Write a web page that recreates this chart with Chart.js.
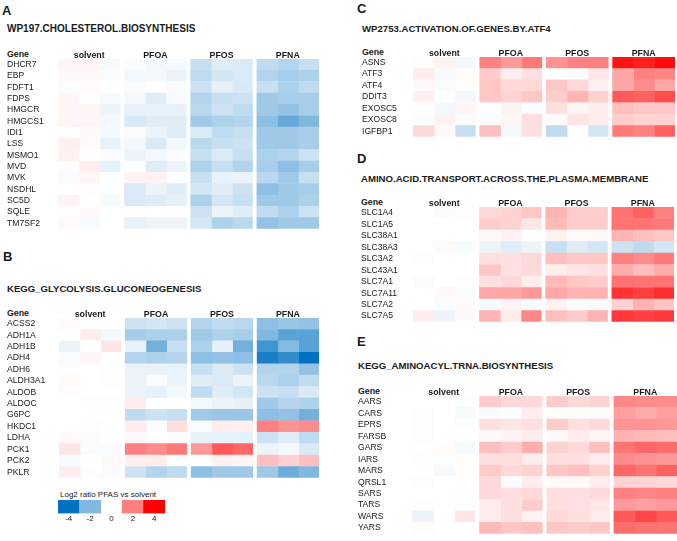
<!DOCTYPE html>
<html>
<head>
<meta charset="utf-8">
<script src="https://cdn.jsdelivr.net/npm/chart.js@4.4.1/dist/chart.umd.min.js"></script>
<style>
  body { margin: 0; background: #fff; width: 677px; height: 541px; position: relative; overflow: hidden;
         font-family: 'Liberation Sans', Arial, sans-serif; color: #1a1a1a; }
  canvas, .txt { position: absolute; }
  .txt { line-height: 12px; white-space: nowrap; }
  .letter { font-weight: bold; font-size: 13px; }
  .ttl { font-weight: bold; font-size: 9.6px; }
  .gene { font-weight: bold; font-size: 8.8px; }
  .leg { font-size: 8px; }
</style>
</head>
<body>
<div class="txt letter" style="left:2px;top:5px">A</div>
<div class="txt ttl" style="left:7px;top:23px;font-size:10px">WP197.CHOLESTEROL.BIOSYNTHESIS</div>
<div class="txt gene" style="left:7px;top:48px">Gene</div>
<canvas id="chartA" width="330" height="190" style="left:0;top:44px"></canvas>

<div class="txt letter" style="left:3px;top:251px">B</div>
<div class="txt ttl" style="left:7px;top:283px">KEGG_GLYCOLYSIS.GLUCONEOGENESIS</div>
<div class="txt gene" style="left:7px;top:307px">Gene</div>
<canvas id="chartB" width="330" height="180" style="left:0;top:303px"></canvas>

<div class="txt leg" style="left:60px;top:489px">Log2 ratio PFAS vs solvent</div>
<canvas id="legendChart" width="115" height="26" style="left:54px;top:499px"></canvas>

<div class="txt letter" style="left:357px;top:3px">C</div>
<div class="txt ttl" style="left:362px;top:23px">WP2753.ACTIVATION.OF.GENES.BY.ATF4</div>
<div class="txt gene" style="left:362px;top:46px">Gene</div>
<canvas id="chartC" width="322" height="100" style="left:355px;top:42px"></canvas>

<div class="txt letter" style="left:357px;top:153px">D</div>
<div class="txt ttl" style="left:361px;top:173px">AMINO.ACID.TRANSPORT.ACROSS.THE.PLASMA.MEMBRANE</div>
<div class="txt gene" style="left:361px;top:196px">Gene</div>
<canvas id="chartD" width="322" height="135" style="left:355px;top:192px"></canvas>

<div class="txt letter" style="left:357px;top:336px">E</div>
<div class="txt ttl" style="left:358px;top:360px">KEGG_AMINOACYL.TRNA.BIOSYNTHESIS</div>
<div class="txt gene" style="left:358px;top:385px">Gene</div>
<canvas id="chartE" width="326" height="158" style="left:351px;top:381px"></canvas>

<script>
var FONT = "'Liberation Sans', Arial, sans-serif";

// sample groups, 3 replicates each
var groups = ['solvent', 'PFOA', 'PFOS', 'PFNA'];

// log2 ratio per gene: [solvent x3, PFOA x3, PFOS x3, PFNA x3]
var genesA = ['DHCR7', 'EBP', 'FDFT1', 'FDPS', 'HMGCR', 'HMGCS1', 'IDI1', 'LSS', 'MSMO1', 'MVD', 'MVK', 'NSDHL', 'SC5D', 'SQLE', 'TM7SF2'];
var valuesA = [
    [0.15, 0.15, -0.15, -0.1, -0.2, -0.15, -0.9, -0.5, -0.6, -1.0, -1.2, -0.9],
    [0.1, 0.1, -0.1, -0.2, -0.2, -0.3, -1.0, -0.7, -0.6, -1.2, -1.4, -1.3],
    [-0.05, 0.1, 0, -0.1, 0, -0.1, -0.8, -0.4, -0.6, -0.9, -1.3, -1.0],
    [0.15, 0, -0.15, -0.2, -0.5, -0.1, -1.2, -0.9, -0.8, -1.5, -1.4, -1.4],
    [0.15, 0.15, -0.3, -0.4, -0.4, -0.4, -1.1, -0.8, -1.0, -1.5, -1.7, -1.4],
    [0.15, 0.15, -0.2, -0.6, -0.5, -0.5, -1.5, -1.3, -1.2, -1.8, -2.4, -2.0],
    [0, 0.1, -0.15, -0.1, -0.3, -0.5, -0.6, -1.0, -0.9, -1.5, -1.5, -1.4],
    [0.25, 0.1, -0.4, -0.2, -0.6, -0.2, -1.1, -0.9, -0.8, -1.5, -1.5, -1.4],
    [0.2, 0, -0.1, -0.3, -0.2, -0.1, -0.9, -0.6, -0.9, -1.3, -1.2, -0.8],
    [0.05, 0.3, -0.4, -0.05, -0.5, -0.3, -1.3, -0.9, -1.2, -1.4, -1.8, -1.4],
    [-0.1, 0.15, 0, 0.2, 0.2, 0, -0.9, -0.4, -0.3, -1.1, -1.5, -0.9],
    [0, 0.05, -0.05, -0.6, -0.3, -0.5, -0.7, -0.5, -0.8, -1.8, -1.5, -1.4],
    [0.2, 0, -0.15, -0.6, -0.5, -0.4, -1.3, -0.7, -0.9, -1.5, -1.5, -1.3],
    [0, 0.1, 0, 0, 0, 0, -0.8, -0.3, -0.5, -1.0, -1.3, -0.8],
    [0.1, -0.15, 0, -0.4, -0.3, -0.3, -0.7, -1.3, -1.1, -1.7, -1.5, -1.5]
];

var genesB = ['ACSS2', 'ADH1A', 'ADH1B', 'ADH4', 'ADH6', 'ALDH3A1', 'ALDOB', 'ALDOC', 'G6PC', 'HKDC1', 'LDHA', 'PCK1', 'PCK2', 'PKLR'];
var valuesB = [
    [0.1, 0, 0, -0.8, -0.7, -0.8, -1.2, -1.0, -1.1, -1.8, -1.6, -1.7],
    [0, 0.3, -0.2, -1.4, -1.3, -1.3, -1.5, -1.3, -1.4, -2.0, -2.6, -2.6],
    [-0.3, 0, 0.4, -0.4, -2.2, -0.9, -1.3, -0.4, -2.2, -3.0, -1.9, -2.6],
    [-0.1, 0.15, 0, -1.2, -1.3, -1.2, -1.8, -1.7, -1.8, -3.6, -3.2, -4.0],
    [-0.05, 0, -0.05, -0.35, -0.35, -0.35, -0.9, -0.6, -0.8, -1.2, -1.2, -1.7],
    [0.1, 0, -0.05, -0.3, -0.1, -0.3, -0.5, -0.6, -0.3, -1.1, -1.3, -1.0],
    [0.05, 0, 0, -0.3, -0.4, -0.2, -1.0, -0.5, -0.7, -0.8, -0.9, -0.6],
    [0, -0.05, 0.05, 0.3, 0, 0, -0.2, -0.3, -0.4, -1.5, -1.2, -1.3],
    [0, 0, 0, -1.0, -0.8, -0.9, -1.5, -1.6, -1.6, -1.8, -1.7, -2.2],
    [0, 0.05, 0, 0.3, -0.1, 0.5, -0.1, 0.3, 0.25, 2.0, 1.7, 1.8],
    [0.1, -0.1, 0, 0.1, 0, -0.05, -0.4, -0.4, -0.4, -0.8, -0.5, -1.0],
    [0.4, -0.1, -0.1, 2.0, 1.8, 2.1, 1.6, 2.6, 2.4, -0.3, -0.2, -0.6],
    [-0.15, 0, 0.1, 0.25, 0.3, 0, 0, 0.2, 0.15, 1.0, 0.7, 1.0],
    [0.3, -0.05, -0.1, -0.8, -1.2, -1.0, -1.8, -1.5, -1.5, -1.5, -2.3, -2.0]
];

var genesC = ['ASNS', 'ATF3', 'ATF4', 'DDIT3', 'EXOSC5', 'EXOSC8', 'IGFBP1'];
var valuesC = [
    [0.05, 0.2, -0.2, 2.0, 1.6, 2.1, 1.7, 2.0, 2.0, 3.7, 3.5, 3.8],
    [0.3, -0.15, 0.05, 0.8, 0.3, 0.5, 0, -0.05, 0.4, 1.4, 2.0, 1.9],
    [0.1, -0.1, 0.05, 0.9, 0.6, 0.6, 0.9, 0.6, 0.25, 1.4, 1.8, 1.4],
    [0.25, 0, -0.2, 0.9, 0.7, 0.9, 0.8, 1.2, 0.7, 2.6, 2.5, 2.8],
    [0, -0.2, 0.15, 0, 0.2, -0.05, 0.5, 0.15, 0.3, 1.0, 0.9, 0.9],
    [-0.05, 0.2, -0.1, -0.1, 0.15, 0.5, 0.1, 0.4, 0.3, 0.8, 0.7, 0.7],
    [0.6, 0.1, -0.9, 1.0, -0.2, 0.5, -1.0, 0, -0.7, 2.1, 2.0, 2.5]
];

var genesD = ['SLC1A4', 'SLC1A5', 'SLC38A1', 'SLC38A3', 'SLC3A2', 'SLC43A1', 'SLC7A1', 'SLC7A11', 'SLC7A2', 'SLC7A5'];
var valuesD = [
    [0, -0.1, 0.05, 0.6, 0.7, 0.9, 1.2, 0.8, 0.8, 2.2, 2.5, 2.0],
    [0, 0, 0, 0.8, 0.7, 0.4, 1.1, 0.8, 0.8, 2.2, 2.2, 2.1],
    [0, 0, 0, 0.1, 0.2, 0, 0.2, 0.05, 0.1, 1.2, 1.0, 0.9],
    [0, 0.1, -0.15, -0.3, -0.5, -0.3, -0.9, -0.5, -0.7, -0.8, -1.0, -0.7],
    [-0.05, 0, 0, 0.5, 0.5, 0.6, 1.0, 0.9, 0.9, 2.0, 1.8, 2.1],
    [0, 0, 0, 0.9, 0.5, 0.6, 0.3, 0.4, 0.5, 1.3, 1.0, 1.3],
    [-0.1, 0, 0.05, 0.5, 0.6, 0.3, 1.1, 0.9, 0.8, 2.2, 2.2, 2.2],
    [0, 0.1, -0.1, 1.4, 1.4, 1.6, 1.4, 1.2, 1.2, 3.2, 3.0, 3.3],
    [0, -0.1, 0.1, -0.15, 0.2, -0.1, 0.2, -0.05, -0.1, 0.7, 1.2, 0.9],
    [0.3, -0.3, 0.1, 1.2, 0.3, 1.9, 1.0, 0.8, 1.2, 3.1, 3.0, 3.1]
];

var genesE = ['AARS', 'CARS', 'EPRS', 'FARSB', 'GARS', 'IARS', 'MARS', 'QRSL1', 'SARS', 'TARS', 'WARS', 'YARS'];
var valuesE = [
    [0, 0, -0.05, 0.8, 0.6, 0.6, 0.8, 0.6, 0.7, 1.9, 1.8, 1.8],
    [0.05, 0, -0.15, -0.1, -0.05, 0.3, 0.05, 0.05, 0.05, 1.5, 1.3, 1.5],
    [-0.05, 0, 0.05, 0.5, 0.4, 0.5, 0.8, 0.5, 0.6, 1.7, 1.7, 1.6],
    [-0.05, 0, 0, 0.1, 0.2, 0.3, 0.1, 0.3, 0.15, 1.2, 1.1, 1.0],
    [0, 0.05, -0.15, 1.0, 0.8, 1.3, 0.7, 0.6, 1.0, 2.2, 2.4, 2.3],
    [-0.05, -0.05, 0.05, 0.5, 0.5, 0.3, 0.5, 0.5, 0.3, 1.8, 1.7, 1.6],
    [0, -0.15, 0.05, 0.8, 0.6, 0.7, 0.9, 1.0, 0.7, 2.4, 2.2, 2.5],
    [0.05, 0, 0, 0.6, -0.1, 0.3, 0.1, 0.1, 0.3, 0.7, 0.7, 0.6],
    [0, 0, -0.05, 0.6, 0.5, 0.6, 0.5, 0.5, 0.6, 2.0, 1.9, 2.0],
    [0.05, 0, 0.05, 0.3, 0.5, 0.8, 0.5, 0.5, 0.4, 1.6, 1.5, 1.6],
    [-0.3, 0, 0.4, 0.3, 0.5, 0.2, 0.6, 0.5, 0.3, 2.6, 2.9, 2.6],
    [0.05, 0, 0, 1.1, 0.9, 1.0, 0.9, 0.8, 0.9, 2.3, 2.2, 2.2]
];

// colour key
var legendTicks = ['-4', '-2', '0', '2', '4'];
var legendValues = [-4, -2, 0, 2, 4];

// column layout: 3 replicate columns per group with a thin gap between groups
var GAP = 0.18;
var xMax = 4 * 3 + 3 * GAP;
function colStart(j) {
    return Math.floor(j / 3) * (3 + GAP) + (j % 3);
}
var groupCenters = groups.map(function (g, i) { return i * (3 + GAP) + 1.5; });

function cellColor(v) {
    var t = Math.min(Math.abs(v) / 4, 1);
    if (v >= 0) {
        var c = Math.round(255 - 255 * t);
        return 'rgb(255,' + c + ',' + c + ')';
    }
    return 'rgb(' + Math.round(255 - 255 * t) + ',' + Math.round(255 - 143 * t) + ',' + Math.round(255 - 63 * t) + ')';
}

function makeHeatmap(id, genes, values, p) {
    var datasets = [];
    for (var j = 0; j < 12; j++) {
        // last column of a group ends exactly; the others overlap a hair to hide seams
        var w = (j % 3 === 2) ? 1 : 1.03;
        datasets.push({
            data: genes.map(function () { return [colStart(j), colStart(j) + w]; }),
            backgroundColor: values.map(function (row) { return cellColor(row[j]); }),
            borderWidth: 0,
            grouped: false,
            barPercentage: 1.04,
            categoryPercentage: 1
        });
    }
    return new Chart(document.getElementById(id).getContext('2d'), {
        type: 'bar',
        data: { labels: genes, datasets: datasets },
        options: {
            indexAxis: 'y',
            responsive: false,
            animation: false,
            layout: { padding: { left: p.padL, right: p.padR, top: 0, bottom: p.padB } },
            plugins: { legend: { display: false }, tooltip: { enabled: false } },
            scales: {
                x: {
                    type: 'linear',
                    position: 'top',
                    min: 0,
                    max: xMax,
                    grid: { display: false, drawTicks: false },
                    border: { display: false },
                    afterBuildTicks: function (s) { s.ticks = groupCenters.map(function (v) { return { value: v }; }); },
                    afterFit: function (s) { s.height = p.headH; },
                    ticks: {
                        autoSkip: false,
                        maxRotation: 0,
                        padding: -2,
                        color: '#1a1a1a',
                        font: { family: FONT, size: 8.8, weight: 'bold' },
                        callback: function (v, i) { return groups[i]; }
                    }
                },
                y: {
                    grid: { display: false, drawTicks: false },
                    border: { display: false },
                    afterFit: function (s) { s.width = p.labW; },
                    ticks: {
                        autoSkip: false,
                        crossAlign: 'far',
                        padding: 0,
                        color: '#1a1a1a',
                        font: { family: FONT, size: 8.6 }
                    }
                }
            }
        }
    });
}

makeHeatmap('chartA', genesA, valuesA, { padL: 7, labW: 51, padR: 11, padB: 5, headH: 15 });
makeHeatmap('chartB', genesB, valuesB, { padL: 7, labW: 52, padR: 11, padB: 5, headH: 15 });
makeHeatmap('chartC', genesC, valuesC, { padL: 7, labW: 51, padR: 2, padB: 4, headH: 15 });
makeHeatmap('chartD', genesD, valuesD, { padL: 6, labW: 52, padR: 3, padB: 4, headH: 15 });
makeHeatmap('chartE', genesE, valuesE, { padL: 7, labW: 54, padR: 0, padB: 4, headH: 15 });

// colour key as a row of boxes
var legendChart = new Chart(document.getElementById('legendChart').getContext('2d'), {
    type: 'bar',
    data: {
        labels: legendTicks,
        datasets: [{
            data: legendValues.map(function () { return 1; }),
            backgroundColor: legendValues.map(function (v) { return v === 0 ? 'rgba(0,0,0,0)' : cellColor(v); }),
            borderWidth: 0,
            barPercentage: 1,
            categoryPercentage: 1
        }]
    },
    options: {
        responsive: false,
        animation: false,
        layout: { padding: { left: 4, right: 4, top: 1, bottom: 0 } },
        plugins: { legend: { display: false }, tooltip: { enabled: false } },
        scales: {
            x: {
                grid: { display: false, drawTicks: false },
                border: { display: false },
                ticks: { padding: 1, color: '#1a1a1a', font: { family: FONT, size: 8 } }
            },
            y: { display: false, min: 0, max: 1 }
        }
    }
});
</script>
</body>
</html>
